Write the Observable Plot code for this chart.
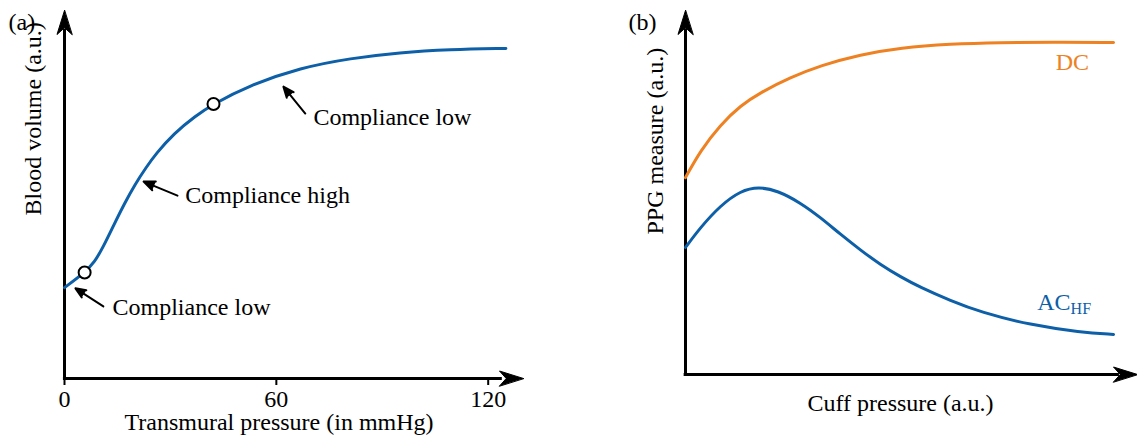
<!DOCTYPE html>
<html>
<head>
<meta charset="utf-8">
<script src="https://cdn.jsdelivr.net/npm/d3@7"></script>
<script src="https://cdn.jsdelivr.net/npm/@observablehq/plot@0.6"></script>
<style>
  html, body { margin: 0; padding: 0; background: #fff; }
  #wrap { position: relative; width: 1137px; height: 437px; }
  #wrap svg { position: absolute; top: 0; }
</style>
</head>
<body>
<div id="wrap"></div>
<script>
// Panel (a): blood volume versus transmural pressure
const volX = [0, 5.7, 8.5, 11, 14, 17, 20, 23, 26, 31, 37, 42.2, 52, 67, 81, 95, 109, 125];
const volY = [24.7, 28.8, 31.6, 35.8, 41.8, 47.6, 52.8, 57.2, 61.2, 66.6, 71.3, 74.6, 79.5, 84.5, 87.0, 88.6, 89.4, 89.7];
const markIdx = [1, 11];          // operating points circled on the curve
const pressureTicks = [0, 60, 120];

// annotation arrows (tail -> tip) and their labels
const noteTailX = [11.0, 32.0, 68.2];
const noteTailY = [19.6, 49.7, 72.0];
const noteTipX = [3.1, 22.4, 62.0];
const noteTipY = [24.5, 53.5, 79.3];
const noteText = ["Compliance low", "Compliance high", "Compliance low"];
const noteTextX = [13.6, 34.2, 70.5];
const noteTextY = [19.3, 49.7, 70.9];

// Panel (b): PPG measures versus cuff pressure
const dcX = [0, 3.3, 7.7, 12.2, 16.6, 23.2, 29.9, 38.7, 47.6, 58.6, 69.7, 80.8, 94.7];
const dcY = [54.1, 61.5, 68.6, 73.9, 77.5, 81.6, 84.9, 87.9, 89.8, 90.8, 91.2, 91.3, 91.2];
const acX = [0, 3.3, 7.7, 12.2, 16.2, 20.4, 25.4, 29.9, 34.3, 38.7, 43.1, 47.6, 52.0, 58.6, 65.3, 76.3, 87.4, 94.7];
const acY = [34.9, 40.4, 46.4, 50.5, 51.6, 50.5, 47.2, 43.1, 38.5, 34.2, 30.2, 26.8, 23.9, 20.3, 17.1, 13.6, 11.6, 11.0];

const BLUE = "#0d5fa8";
const ORANGE = "#ee8122";
const FONT = "'Liberation Serif', 'Times New Roman', serif";

// filled stealth arrowhead used at the end of each axis
const stealth = {
  draw(context, l, r) {
    context.moveTo(0, -l);
    context.lineTo(-r, 0);
    context.lineTo(0, -l * 0.28);
    context.lineTo(r, 0);
    context.closePath();
  }
};

const curveA = volX.map((x, i) => ({x, y: volY[i]}));
const marksA = markIdx.map(i => ({x: volX[i], y: volY[i]}));
const notes = noteText.map((t, i) => ({
  t, x1: noteTailX[i], y1: noteTailY[i], x2: noteTipX[i], y2: noteTipY[i],
  tx: noteTextX[i], ty: noteTextY[i]
}));

const plotA = Plot.plot({
  width: 568, height: 437,
  marginLeft: 64, marginRight: 45, marginTop: 10, marginBottom: 59,
  style: {fontFamily: FONT, fontSize: "24px", color: "black", overflow: "visible"},
  x: {domain: [0, 130]},
  y: {domain: [0, 100], axis: null},
  marks: [
    Plot.axisX({ticks: pressureTicks, tickSize: 7, tickPadding: 4, label: null, strokeWidth: 2}),
    Plot.ruleX([0], {y1: 0, y2: 95, strokeWidth: 3}),
    Plot.ruleY([0], {x1: -0.3, x2: 124, strokeWidth: 3}),
    Plot.vector([0], {x: 0, y: 100, anchor: "end", length: 24, r: 7.5, shape: stealth, fill: "black", stroke: "black", strokeWidth: 1}),
    Plot.vector([0], {x: 130, y: 0, rotate: 90, anchor: "end", length: 24, r: 7.5, shape: stealth, fill: "black", stroke: "black", strokeWidth: 1}),
    Plot.line(curveA, {x: "x", y: "y", stroke: BLUE, strokeWidth: 3, curve: "basis"}),
    Plot.dot(marksA, {x: "x", y: "y", r: 6, fill: "white", stroke: "black", strokeWidth: 2}),
    Plot.arrow(notes, {x1: "x1", y1: "y1", x2: "x2", y2: "y2", stroke: "black", fill: "black", strokeWidth: 2, headLength: 11, headAngle: 45}),
    Plot.text(notes, {x: "tx", y: "ty", text: "t", textAnchor: "start", lineAnchor: "middle", fontSize: 24}),
    Plot.text(["Transmural pressure (in mmHg)"], {frameAnchor: "bottom", dx: -15, dy: 44, lineAnchor: "middle", fontSize: 24}),
    Plot.text(["Blood volume (a.u.)"], {frameAnchor: "left", dx: -31, dy: 21, rotate: -90, lineAnchor: "middle", fontSize: 24}),
    Plot.text(["(a)"], {frameAnchor: "top-left", dx: -56, dy: 12, textAnchor: "start", lineAnchor: "middle", fontSize: 24})
  ]
});

const dc = dcX.map((x, i) => ({x, y: dcY[i]}));
const ac = acX.map((x, i) => ({x, y: acY[i]}));

const plotB = Plot.plot({
  width: 569, height: 437,
  marginLeft: 117, marginRight: 0, marginTop: 10, marginBottom: 63,
  style: {fontFamily: FONT, fontSize: "24px", color: "black", overflow: "visible"},
  x: {domain: [0, 100], axis: null},
  y: {domain: [0, 100], axis: null},
  marks: [
    Plot.ruleX([0], {y1: 0, y2: 95, strokeWidth: 3}),
    Plot.ruleY([0], {x1: -0.3, x2: 96, strokeWidth: 3}),
    Plot.vector([0], {x: 0, y: 100, anchor: "end", length: 24, r: 7.5, shape: stealth, fill: "black", stroke: "black", strokeWidth: 1}),
    Plot.vector([0], {x: 100, y: 0, rotate: 90, anchor: "end", length: 24, r: 7.5, shape: stealth, fill: "black", stroke: "black", strokeWidth: 1}),
    Plot.line(dc, {x: "x", y: "y", stroke: ORANGE, strokeWidth: 3, curve: "basis"}),
    Plot.line(ac, {x: "x", y: "y", stroke: BLUE, strokeWidth: 3, curve: "basis"}),
    Plot.text(["DC"], {x: 85.6, y: 85.7, fill: ORANGE, fontSize: 24, lineAnchor: "middle"}),
    Plot.text(["AC"], {x: 85.2, y: 19.8, fill: BLUE, fontSize: 24, textAnchor: "end", lineAnchor: "middle"}),
    Plot.text(["HF"], {x: 85.2, y: 19.8, dy: 6, fill: BLUE, fontSize: 16, textAnchor: "start", lineAnchor: "middle"}),
    Plot.text(["Cuff pressure (a.u.)"], {frameAnchor: "bottom", dx: -11, dy: 29, lineAnchor: "middle", fontSize: 24}),
    Plot.text(["PPG measure (a.u.)"], {frameAnchor: "left", dx: -30, dy: 42, rotate: -90, lineAnchor: "middle", fontSize: 24}),
    Plot.text(["(b)"], {frameAnchor: "top-left", dx: -57, dy: 12, textAnchor: "start", lineAnchor: "middle", fontSize: 24})
  ]
});

const wrap = document.getElementById("wrap");
plotA.style.left = "0px";
plotB.style.left = "568px";
wrap.appendChild(plotA);
wrap.appendChild(plotB);
</script>
</body>
</html>
